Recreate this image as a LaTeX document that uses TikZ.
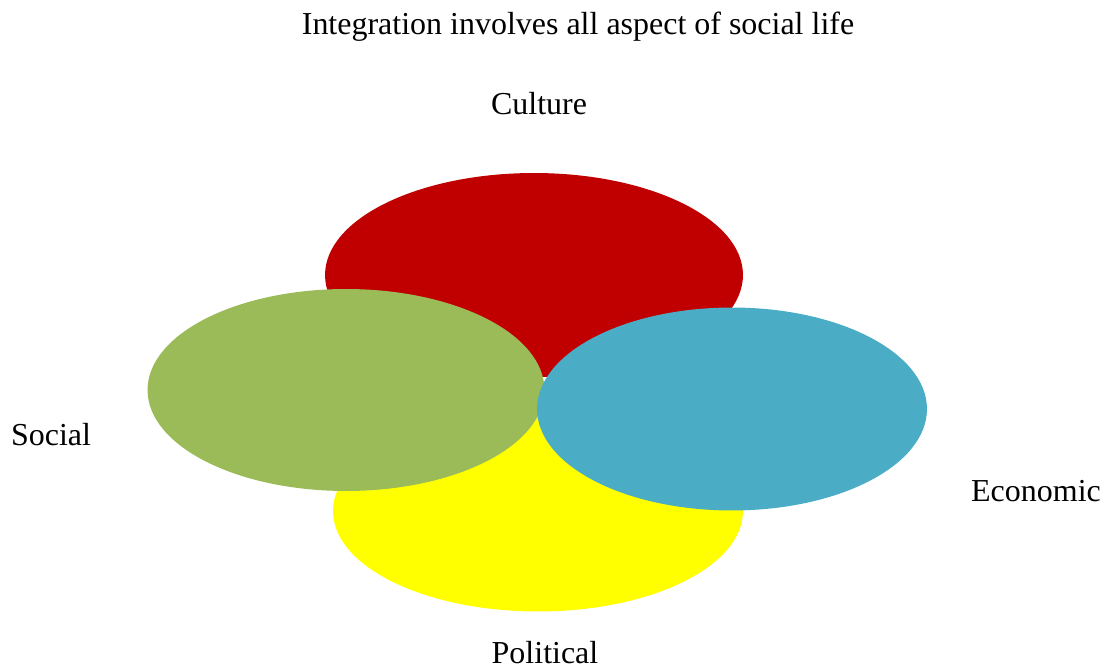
\documentclass[tikz,border=0pt]{standalone}
\usepackage{fontspec}
\setmainfont{Liberation Serif}
\usepackage{tikz}
\usetikzlibrary{shapes.geometric}

\begin{document}
\begin{tikzpicture}[
				x=0.02cm,
				y=-0.02cm,
				font=\fontsize{18.2}{21}\selectfont
				]
				% colours of the picture
				\definecolor{culRed}{HTML}{C00000}
				\definecolor{polYellow}{HTML}{FFFF00}
				\definecolor{socGreen}{HTML}{9BBB59}
				\definecolor{ecoBlue}{HTML}{4BACC6}
				
				% Style node
				\tikzset{
					blob/.style={ellipse, draw=none, inner sep=0pt},
					lbl/.style={inner sep=0pt, anchor=base}
				}
				
				\useasboundingbox (0,0) rectangle (1114,671);
				
				% ===== Ellipses =====
				\node[blob, fill=culRed, minimum width=8.36cm, minimum height=4.08cm] (cul) at (534, 275) {};
				\node[blob, fill=polYellow, minimum width=8.2cm, minimum height=4.02cm] (pol) at (538, 511) {};
				\node[blob, fill=socGreen, minimum width=7.94cm, minimum height=4.04cm] (soc) at (346, 390) {};
				\node[blob, fill=ecoBlue, minimum width=7.8cm, minimum height=4.06cm] (eco) at (732, 409) {};
				
				% ===== Labels =====
				\node[lbl] (title) at (578, 35) {Integration involves all aspect of social life};
				\node[lbl] (tcul) at (539, 115) {Culture};
				\node[lbl] (tsoc) at (51, 445) {Social};
				\node[lbl] (teco) at (1036, 501) {Economic};
				\node[lbl] (tpol) at (545, 663) {Political};
				
			\end{tikzpicture}
\end{document}
